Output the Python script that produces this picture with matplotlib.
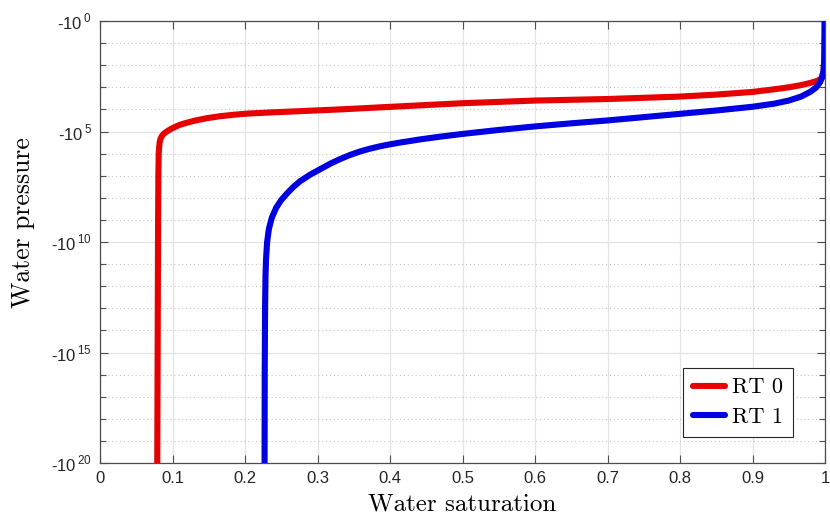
import numpy as np
import matplotlib
matplotlib.use("Agg")
import matplotlib.pyplot as plt
from matplotlib.ticker import FixedLocator, NullFormatter

plt.rcParams['mathtext.fontset'] = 'custom'
plt.rcParams['mathtext.rm'] = 'Liberation Sans'
plt.rcParams['font.family'] = ['Liberation Sans', 'DejaVu Sans']

## data: saturation and exponent of |water pressure|
sat_rt0 = [0.079, 0.0795, 0.0800, 0.0805, 0.0810, 0.0815, 0.0822, 0.0835, 0.0855, 0.088,
           0.092, 0.097, 0.103, 0.110, 0.120, 0.132, 0.147, 0.165, 0.185, 0.203,
           0.240, 0.276, 0.331, 0.403, 0.500, 0.600, 0.700, 0.800, 0.850, 0.900,
           0.930, 0.950, 0.967, 0.980, 0.990, 0.995, 0.998, 0.999, 0.9995]
exp_rt0 = [20.0, 15.0, 10.0, 7.0, 6.0, 5.75, 5.5, 5.32, 5.2, 5.1,
           5.0, 4.9, 4.8, 4.7, 4.6, 4.5, 4.4, 4.31, 4.24, 4.19,
           4.13, 4.08, 4.0, 3.88, 3.72, 3.60, 3.53, 3.42, 3.33, 3.21,
           3.09, 3.0, 2.9, 2.8, 2.7, 2.6, 2.3, 1.8, 0.0]

sat_rt1 = [0.227, 0.2272, 0.2277, 0.2283, 0.229, 0.2305, 0.233, 0.237, 0.243, 0.250,
           0.258, 0.267, 0.276, 0.290, 0.304, 0.318, 0.331, 0.345, 0.359, 0.372,
           0.386, 0.400, 0.414, 0.441, 0.470, 0.500, 0.550, 0.600, 0.650, 0.700,
           0.750, 0.800, 0.850, 0.900, 0.930, 0.950, 0.967, 0.980, 0.988, 0.993,
           0.996, 0.998, 0.999, 0.9995, 0.9997]
exp_rt1 = [20.0, 16.0, 13.0, 11.5, 10.8, 10.0, 9.4, 8.9, 8.45, 8.1,
           7.8, 7.5, 7.25, 6.95, 6.7, 6.45, 6.25, 6.06, 5.9, 5.78,
           5.67, 5.58, 5.5, 5.36, 5.23, 5.11, 4.93, 4.77, 4.63, 4.5,
           4.35, 4.2, 4.05, 3.88, 3.74, 3.6, 3.42, 3.2, 3.0, 2.78,
           2.55, 2.25, 1.8, 1.0, 0.0]

labels = ['RT 0', 'RT 1']
colors = ['#e60000', '#0000e0']

x_ticks = [0, 0.1, 0.2, 0.3, 0.4, 0.5, 0.6, 0.7, 0.8, 0.9, 1.0]
x_ticklabels = ['0', '0.1', '0.2', '0.3', '0.4', '0.5', '0.6', '0.7', '0.8', '0.9', '1']
y_major_exp = [0, 5, 10, 15, 20]
y_minor_exp = list(range(0, 21))


fig = plt.figure(figsize=(8.3, 5.15), dpi=100)
ax = fig.add_axes([100/830, 1 - 463/515, 725/830, 442/515])

for s, e, lab, c in zip([sat_rt0, sat_rt1], [exp_rt0, exp_rt1], labels, colors):
    p = 10.0 ** np.array(e)
    ax.plot(s, p, color=c, lw=4.4, label=lab, solid_capstyle='round',
            solid_joinstyle='round', zorder=3)

ax.set_yscale('log')
ax.set_ylim(1e20, 1e0)
ax.set_xlim(0, 1)

ax.yaxis.set_major_locator(FixedLocator([10.0 ** k for k in y_major_exp]))
ax.yaxis.set_minor_locator(FixedLocator([10.0 ** k for k in y_minor_exp]))
ax.yaxis.set_minor_formatter(NullFormatter())
ax.set_yticklabels(['-10$^{\\,%d}$' % k for k in y_major_exp])
ax.set_xticks(x_ticks)
ax.set_xticklabels(x_ticklabels)

ax.tick_params(which='both', direction='in', top=True, right=True,
               colors='#4d4d4d', labelcolor='#262626', labelsize=12)
ax.tick_params(which='major', length=6, width=0.8, pad=6)
ax.tick_params(which='minor', length=4, width=0.8)
for sp in ax.spines.values():
    sp.set_color('#4d4d4d')
    sp.set_linewidth(0.9)

ax.grid(which='major', color='#e3e3e3', lw=0.9, ls='-', zorder=0)
ax.grid(which='minor', axis='y', color='#c4c4c4', lw=0.8, ls=(0, (1, 2.5)), zorder=0)
ax.set_axisbelow(True)

ax.set_xlabel('Water saturation', family='cmr10', fontsize=18, color='black')
ax.xaxis.set_label_coords(0.5, -0.068)
ax.set_ylabel('Water pressure', family='cmr10', fontsize=18.5, color='black')
ax.yaxis.set_label_coords(-0.09, 0.543)

leg = ax.legend(loc='lower right', bbox_to_anchor=(0.956, 0.059),
                prop={'family': 'cmr10', 'size': 16}, fancybox=False,
                framealpha=1, edgecolor='#262626', handlelength=1.45,
                handletextpad=0.3, borderpad=0.45, labelspacing=0.45,
                borderaxespad=0)
leg.get_frame().set_linewidth(0.8)

fig.savefig('out.png', dpi=100)
